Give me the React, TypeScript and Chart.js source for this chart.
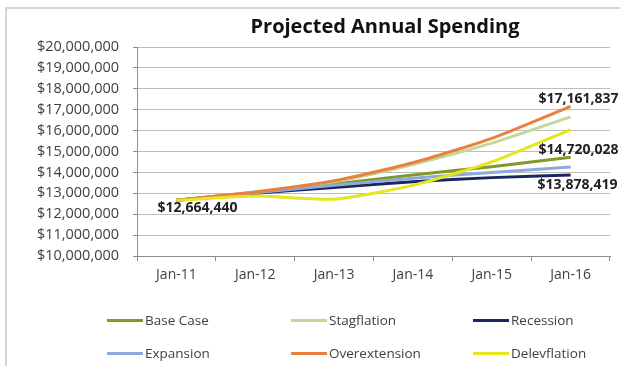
import React, { useEffect, useRef } from "react";
import { Chart, registerables } from "chart.js";

Chart.register(...registerables);

const categories = ["Jan-11", "Jan-12", "Jan-13", "Jan-14", "Jan-15", "Jan-16"];
const seriesNames = ["Base Case", "Stagflation", "Recession", "Expansion", "Overextension", "Delevflation"];
const baseCase = [12664440, 13050000, 13450000, 13880000, 14270000, 14720028];
const stagflation = [12664440, 13060000, 13550000, 14380000, 15400000, 16660000];
const recession = [12664440, 13000000, 13280000, 13550000, 13750000, 13878419];
const expansion = [12664440, 13030000, 13380000, 13720000, 14000000, 14260000];
const overextension = [12664440, 13060000, 13600000, 14460000, 15630000, 17161837];
const delevflation = [12664440, 12870000, 12720000, 13380000, 14500000, 16050000];
const seriesValues = [baseCase, stagflation, recession, expansion, overextension, delevflation];
const seriesColors = ["#7f9a26", "#c4d79b", "#1b2660", "#8eaadc", "#e8803f", "#e6e620"];
const yMin = 10000000;
const yMax = 20000000;
const yStep = 1000000;

// data labels: [series index, point index]
const labelPoints = [
  [0, 0],
  [4, 5],
  [0, 5],
  [2, 5],
];
const labelOffsets = [
  [21, 8],
  [8, -7],
  [8, -7],
  [7, 10],
];

const fmt = (v: number) => "$" + Math.round(v).toLocaleString("en-US");

const FONT = "'Open Sans', 'DejaVu Sans', sans-serif";

const dataLabelPlugin = {
  id: "dataLabels",
  afterDatasetsDraw(chart: any) {
    const ctx = chart.ctx;
    ctx.save();
    ctx.font = `bold 14px ${FONT}`;
    ctx.fillStyle = "#222";
    ctx.textAlign = "center";
    ctx.textBaseline = "middle";
    labelPoints.forEach(([si, pi], k) => {
      const v = seriesValues[si][pi];
      const x = chart.scales.x.getPixelForValue(pi);
      const y = chart.scales.y.getPixelForValue(v);
      const [dx, dy] = labelOffsets[k];
      ctx.fillText(fmt(v), x + dx, y + dy);
    });
    ctx.restore();
  },
};

export default function App() {
  const ref = useRef<HTMLCanvasElement | null>(null);
  useEffect(() => {
    if (!ref.current) return;
    const chart = new Chart(ref.current, {
      type: "line",
      data: {
        labels: categories,
        datasets: seriesNames.map((name, i) => ({
          label: name,
          data: seriesValues[i],
          borderColor: seriesColors[i],
          backgroundColor: seriesColors[i],
          borderWidth: 3,
          pointRadius: 0,
          tension: 0.2,
          fill: false,
          order: seriesNames.length - i,
        })),
      },
      options: {
        responsive: false,
        animation: false,
        devicePixelRatio: 1,
        layout: { padding: { top: 47, right: 10, bottom: 80, left: 0 } },
        plugins: {
          legend: { display: false },
          title: { display: false },
          tooltip: { enabled: false },
        },
        scales: {
          x: {
            offset: true,
            grid: {
              offset: true,
              drawOnChartArea: false,
              drawTicks: true,
              tickLength: 5,
              color: "#8c8c8c",
            },
            border: { display: true, color: "#8c8c8c", width: 1 },
            ticks: {
              color: "#404040",
              font: { family: FONT, size: 14 },
              padding: 6,
              maxRotation: 0,
            },
            afterFit: (s: any) => {
              s.height = 30;
            },
          },
          y: {
            min: yMin,
            max: yMax,
            grid: {
              color: "#bdbdbd",
              lineWidth: 1,
              drawTicks: true,
              tickLength: 4,
              tickColor: "#8c8c8c",
            },
            border: { display: true, color: "#8c8c8c", width: 1 },
            ticks: {
              stepSize: yStep,
              color: "#404040",
              font: { family: FONT, size: 14.5 },
              padding: 14,
              callback: (v: any) => fmt(Number(v)),
            },
            afterFit: (s: any) => {
              s.width = 137;
            },
          },
        },
      },
      plugins: [dataLabelPlugin],
    });
    return () => chart.destroy();
  }, []);

  const legendCols = [107, 291, 473];
  const legendRows = [320, 353];

  return (
    <div
      style={{
        position: "fixed",
        left: 0,
        top: 0,
        width: 620,
        height: 366,
        background: "#fff",
        overflow: "hidden",
        fontFamily: FONT,
      }}
    >
      <div
        style={{
          position: "absolute",
          left: 5,
          top: 7,
          width: 700,
          height: 500,
          borderLeft: "2px solid #d6d6d6",
          borderTop: "2px solid #d6d6d6",
        }}
      />
      <canvas ref={ref} width={620} height={366} style={{ position: "absolute", left: 0, top: 0 }} />
      <div
        style={{
          position: "absolute",
          left: 385,
          top: 25,
          transform: "translate(-50%, -50%)",
          fontWeight: 700,
          fontSize: 20,
          color: "#111",
          whiteSpace: "nowrap",
        }}
      >
        Projected Annual Spending
      </div>
      {seriesNames.map((name, i) => (
        <div
          key={name}
          style={{
            position: "absolute",
            left: legendCols[i % 3],
            top: legendRows[Math.floor(i / 3)],
            transform: "translateY(-50%)",
            display: "flex",
            alignItems: "center",
            whiteSpace: "nowrap",
            fontSize: 13.5,
            color: "#404040",
          }}
        >
          <span style={{ display: "inline-block", width: 36, height: 3, background: seriesColors[i], marginRight: 2 }} />
          <span>{name}</span>
        </div>
      ))}
    </div>
  );
}
